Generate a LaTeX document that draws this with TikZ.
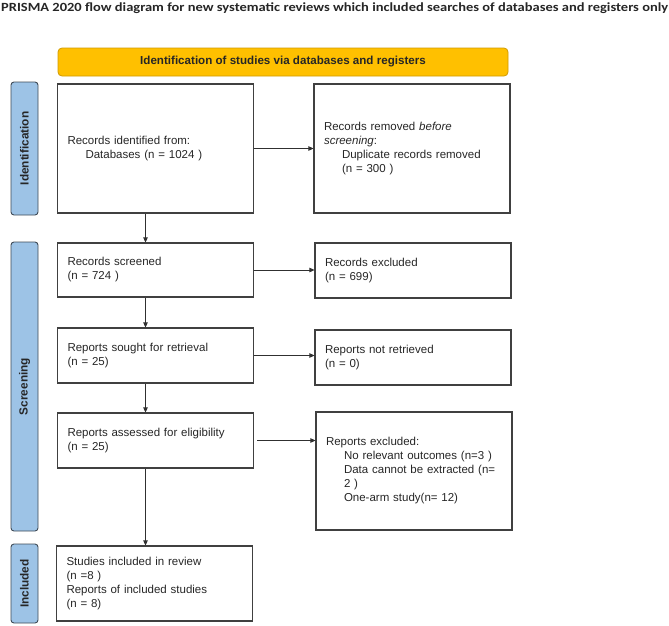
\documentclass[tikz,border=0pt]{standalone}
\usepackage{fontspec}
\setmainfont{Liberation Sans}
\newfontfamily\titlefont{Carlito}
\usetikzlibrary{arrows.meta,calc}
\definecolor{barblue}{HTML}{9DC3E6}
\definecolor{barline}{HTML}{3F4A56}
\definecolor{banyellow}{HTML}{FFC000}
\definecolor{banline}{HTML}{D09A00}
\definecolor{boxline}{HTML}{404040}
\definecolor{txt}{HTML}{262626}
\definecolor{arr}{HTML}{303030}
\tikzset{
  bx/.style={draw=boxline, line width=1.1pt, rectangle, minimum width=196pt,
    text width=176pt, inner xsep=10pt, inner ysep=2pt, align=left,
    font=\fontsize{11.5}{14}\selectfont, text=txt},
  sidebar/.style={draw=barline, line width=0.9pt, fill=barblue, rounded corners=3pt,
    minimum width=27pt, inner sep=0pt},
  sidetext/.style={rotate=90, font=\bfseries\fontsize{11.8}{13}\selectfont, text=txt, inner sep=0pt},
  conn/.style={draw=arr, line width=0.7pt, -{Triangle[length=5pt,width=4.5pt]}},
}
\newcommand{\ind}{\hspace*{18pt}}
\begin{document}
\begin{tikzpicture}[x=1pt,y=-1pt]
\useasboundingbox (0,0) rectangle (669,625);
\node[anchor=base west, inner sep=0pt, font=\titlefont\bfseries\fontsize{12.5}{14}\selectfont, text=txt] (title) at (1,11.5)
  {\scalebox{1.158}[1]{PRISMA 2020 flow diagram for new systematic reviews which included searches of databases and registers only}};
\node[draw=banline, line width=0.8pt, fill=banyellow, rounded corners=4pt, minimum width=450pt, minimum height=28pt,
  inner sep=0pt, font=\bfseries\fontsize{11.6}{13}\selectfont, text=txt] (banner) at (283,62)
  {Identification of studies via databases and registers};
% side bars
\node[sidebar, minimum height=133pt] (barid) at (24.5,148.5) {};
\node[sidetext] (baridt) at (barid.center) {Identification};
\node[sidebar, minimum height=289pt] (barsc) at (24.5,386.5) {};
\node[sidetext] (barsct) at (barsc.center) {Screening};
\node[sidebar, minimum height=79pt] (barin) at (24.5,583.5) {};
\node[sidetext] (barint) at (barin.center) {Included};
% boxes
\node[bx, minimum height=129pt] (ident) at (155.5,148.5)
  {Records identified from:\\ \ind Databases (n = 1024 )};
\node[bx, minimum height=129pt] (removed) at (412,148.5)
  {Records removed \textit{before}\\ \textit{screening}:\\ \ind Duplicate records removed\\ \ind (n = 300 )};
\node[bx, minimum height=54pt] (screened) at (155.5,270)
  {Records screened\\ (n = 724 )};
\node[bx, minimum height=55pt] (excluded) at (413,270.5)
  {Records excluded\\ (n = 699)};
\node[bx, minimum height=55pt] (sought) at (155.5,355.5)
  {Reports sought for retrieval\\ (n = 25)};
\node[bx, minimum height=55pt] (notret) at (413,357.5)
  {Reports not retrieved\\ (n = 0)};
\node[bx, minimum height=55pt] (assessed) at (155.5,440.5)
  {Reports assessed for eligibility\\ (n = 25)};
\node[bx, minimum height=118pt] (repexcl) at (414,471)
  {Reports excluded:\\ \ind No relevant outcomes (n=3 )\\ \ind Data cannot be extracted (n=\\ \ind 2 )\\ \ind One-arm study(n= 12)};
\node[bx, minimum height=75pt] (studies) at (154.5,583.5)
  {Studies included in review\\ (n =8 )\\ Reports of included studies\\ (n = 8)};
% connectors
\coordinate (col) at (145.5,0);
\draw[conn] (ident.east) -- (ident.east -| removed.west);
\draw[conn] (ident.south -| col) -- (screened.north -| col);
\draw[conn] (screened.east) -- (screened.east -| excluded.west);
\draw[conn] (screened.south -| col) -- (sought.north -| col);
\draw[conn] (sought.east) -- (sought.east -| notret.west);
\draw[conn] (sought.south -| col) -- (assessed.north -| col);
\draw[conn] ([xshift=3pt]assessed.east) -- (assessed.east -| repexcl.west);
\draw[conn] (assessed.south -| col) -- (studies.north -| col);
\end{tikzpicture}
\end{document}
